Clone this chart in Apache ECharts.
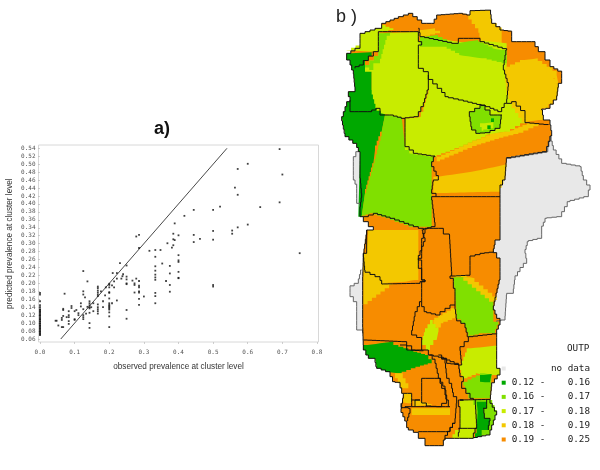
<!DOCTYPE html>
<html><head><meta charset="utf-8">
<script src="https://cdn.jsdelivr.net/npm/echarts@6/dist/echarts.min.js"></script>
<style>html,body{margin:0;padding:0;background:#fff}#c{width:600px;height:470px}</style>
</head><body><div id="c"></div>
<script>
// ---------- panel a) data ----------
const xTicks = [0,0.1,0.2,0.3,0.4,0.5,0.6,0.7,0.8];
const identityLine = [[0.06,0.06],[0.54,0.54]];
const zeroColumn = [0.07,0.072,0.074,0.077,0.079,0.081,0.084,0.086,0.088,0.091,0.093,0.095,0.098,0.1,0.103,0.105,0.108,0.11,0.112,0.115,0.118,0.12,0.122,0.125,0.128,0.13,0.133,0.135,0.14,0.145,0.155,0.172,0.176];
const scatterPoints = [
[0.692,0.538],[0.571,0.488],[0.6,0.501],[0.7,0.474],[0.563,0.441],[0.571,0.423],[0.692,0.404],[0.636,0.392],[0.52,0.393],[0.5,0.385],[0.444,0.385],[0.417,0.37],[0.389,0.351],[0.6,0.348],[0.571,0.341],[0.555,0.333],[0.555,0.325],[0.5,0.332],[0.5,0.31],[0.444,0.322],[0.444,0.304],[0.462,0.312],[0.4,0.321],[0.385,0.325],[0.385,0.311],[0.389,0.309],[0.368,0.301],[0.385,0.296],[0.381,0.29],[0.75,0.276],[0.5,0.196],[0.5,0.192],
[0.4,0.271],[0.4,0.258],[0.4,0.254],[0.4,0.229],[0.4,0.214],[0.4,0.213],[0.375,0.244],[0.375,0.225],[0.375,0.196],[0.375,0.179],[0.364,0.206],[0.353,0.25],[0.348,0.284],[0.333,0.284],[0.316,0.282],[0.333,0.267],[0.333,0.243],[0.333,0.232],[0.333,0.222],[0.333,0.215],[0.333,0.209],[0.333,0.176],[0.333,0.168],[0.333,0.15],[0.3,0.167],[0.286,0.322],[0.278,0.318],[0.286,0.289],
[0.286,0.206],[0.286,0.194],[0.286,0.19],[0.286,0.18],[0.286,0.177],[0.286,0.161],[0.286,0.146],[0.278,0.212],[0.273,0.2],[0.273,0.196],[0.273,0.177],[0.267,0.207],[0.25,0.245],[0.25,0.217],[0.25,0.21],[0.25,0.2],[0.25,0.198],[0.25,0.133],[0.25,0.111],[0.231,0.251],[0.24,0.223],[0.238,0.218],[0.235,0.212],[0.222,0.226],[0.222,0.212],[0.222,0.157],[0.214,0.205],[0.21,0.226],[0.214,0.19],[0.208,0.195],[0.208,0.15],
[0.2,0.199],[0.2,0.196],[0.2,0.19],[0.2,0.178],[0.2,0.176],[0.2,0.162],[0.2,0.15],[0.2,0.146],[0.2,0.143],[0.2,0.14],[0.2,0.137],[0.2,0.134],[0.2,0.127],[0.2,0.117],[0.2,0.09],
[0.19,0.19],[0.188,0.17],[0.182,0.155],[0.182,0.14],[0.176,0.18],
[0.167,0.192],[0.167,0.188],[0.167,0.182],[0.167,0.177],[0.167,0.172],[0.167,0.168],[0.167,0.147],[0.167,0.14],[0.167,0.135],[0.167,0.13],[0.167,0.124],
[0.154,0.13],[0.154,0.15],[0.148,0.14],[0.143,0.155],[0.143,0.15],[0.143,0.145],[0.143,0.14],[0.143,0.137],[0.143,0.126],[0.143,0.1],[0.143,0.088],[0.137,0.205],[0.137,0.141],[0.125,0.231],[0.125,0.18],[0.125,0.172],[0.125,0.135],[0.125,0.12],[0.125,0.115],[0.125,0.11],[0.13,0.165],[0.133,0.124],[0.118,0.15],[0.118,0.142],[0.111,0.125],[0.111,0.12],[0.105,0.133],[0.1,0.11],[0.1,0.108],[0.1,0.13],[0.091,0.143],[0.091,0.138],[0.083,0.13],[0.083,0.12],[0.083,0.115],[0.083,0.105],[0.083,0.098],[0.077,0.115],[0.071,0.174],[0.067,0.136],[0.067,0.133],[0.067,0.118],[0.063,0.113],[0.063,0.108],[0.063,0.09],[0.067,0.09],[0.053,0.094],[0.045,0.106],[0.048,0.106]
];
// ---------- panel b) classes ----------
const classLabels = ['0.12 -    0.16','0.16 -    0.17','0.17 -    0.18','0.18 -    0.19','0.19 -    0.25'];
const classValues = [0.14,0.165,0.175,0.185,0.22];
const classColors = ['#00a800','#80e000','#c8ec00','#f3c800','#f78c00'];
const noDataColor = '#e8e8e8';
const [DG,G,L,Y,O] = classValues; const ND = -1;

// map geometry traced in four overlapping frames
const frame=(ox,oy)=>(...p)=>{const r=[];for(let i=0;i<p.length;i+=2)r.push([ox+p[i]/3,oy+p[i+1]/3]);return r;};
const N=frame(330,0),S=frame(330,230),A=frame(395,345),B=frame(355,220);
function stairs(pts,closed,step=4.5){
  const src=closed?pts.concat([pts[0]]):pts, out=[src[0]];
  for(let i=1;i<src.length;i++){
    const a=src[i-1],b=src[i],n=Math.max(1,Math.round(Math.max(Math.abs(b[0]-a[0]),Math.abs(b[1]-a[1]))/step));
    let pv=a;
    for(let k=1;k<=n;k++){
      const q=[a[0]+(b[0]-a[0])*k/n,a[1]+(b[1]-a[1])*k/n];
      if(Math.abs(a[0]-b[0])>0.5&&Math.abs(a[1]-b[1])>0.5) out.push([q[0],pv[1]]);
      out.push(q);pv=q;
    }
  }
  return out;
}
const outline = [...N(50,160,75,145,90,130,90,100,135,85,155,70,205,50,235,40,275,70,305,70,320,45,385,40,410,45,420,32,480,30,485,70,510,90,545,95,545,125,605,125,625,155,645,160,645,180,660,200,695,220,695,250,685,262,680,300,660,325,635,330,640,360,660,375,665,408,650,455,530,475,525,540,510,570,510,690),
 ...S(510,30,495,45,490,68,510,100,510,150,495,215,490,240,500,265,510,285,500,310),
 ...A(305,30,305,70,315,75,315,90,290,125,285,175,305,210,300,225,285,270,235,280,165,280,150,285,145,302,90,302,90,280,70,262,40,248,35,228,18,190,20,175,25,145,15,112,0,110),
 ...S(180,425,140,410,135,385,115,375,100,345,98,280,98,140,100,70,110,0),
 ...N(115,690,130,680,100,650,90,645,90,620,95,580,90,520,90,455,80,430,45,400,35,350,50,305,60,290,55,275,75,260,70,210,60,180)];
const grayEast = [...N(530,475,650,455,660,410,670,450,695,490,750,500,760,540,780,570,775,590,720,605,695,650,650,655,635,690),...S(635,25,595,35,585,70,590,100,570,125,555,150,550,190,530,195,525,270,500,275,480,240,480,0),...N(500,600)];
const grayWest1 = N(85,455,70,485,70,540,80,565,80,610,90,620,110,610,110,460);
const grayWest2 = S(95,120,85,160,60,175,60,200,80,230,80,300,98,310,110,300,110,130);

const zones = [
 ['no data east',ND,grayEast],['no data west 1',ND,grayWest1],['no data west 2',ND,grayWest2],
 ['body',O,outline],
 ['nw strip',L,N(50,150,90,130,90,100,135,85,155,75,190,90,145,100,145,155)],
 ['dark west',DG,N(50,160,135,155,105,195,125,215,125,270,140,325,165,345,155,395,135,450,130,490,105,580,95,650,85,650,90,455,80,430,45,400,35,350,50,305,60,290,55,275,75,260,70,210,60,180)],
 ['green sw',G,N(165,345,215,350,225,440,250,460,315,470,305,500,305,680,250,680,180,655,130,640,95,650,105,580,130,490,155,395)],
 ['lime nw',L,N(105,195,145,155,145,100,265,95,265,125,270,145,265,205,295,225,295,270,280,320,265,350,225,355,215,350,165,340,140,325,125,270,125,215)],
 ['green fringe',G,N(105,195,145,155,145,100,190,95,170,120,150,190,130,210)],
 ['yellow band',Y,N(320,470,400,435,480,400,540,390,590,370,640,372,580,398,520,413,440,438,330,484)],
 ['lime north',L,N(265,150,275,110,530,150,530,270,545,305,585,370,540,395,480,405,400,440,320,470,250,460,225,440,225,355,265,350,280,320,295,270,295,225,265,205)],
 ['green north',G,N(270,110,310,105,365,130,430,120,530,150,530,190,470,175,400,165,350,140,270,140)],
 ['yellow north a',Y,N(265,90,300,85,330,100,270,115)],
 ['yellow north b',Y,N(415,45,420,32,480,30,485,70,515,95,515,135,455,125,445,85)],
 ['lime north c',L,N(450,122,515,130,530,150,500,145)],
 ['yellow east',Y,N(525,200,570,180,610,175,650,200,685,262,680,300,655,325,635,330,640,360,585,368,545,310,530,270,525,235)],
 ['yellow tip',Y,N(655,200,680,225,685,250,650,205)],
 ['yellow centre',Y,N(310,530,380,520,440,510,530,490,525,540,510,575,310,580)],
 ['ring green',G,N(418,335,450,315,480,345,515,345,510,385,480,398,450,400,425,380)],
 ['ring lime',L,N(450,370,490,365,490,385,460,392)],
 ['ring dark a',DG,N(483,355,492,355,492,366,483,366)],
 ['ring dark b',DG,N(472,376,482,376,482,387,472,387)],
 ['yellow sw',Y,B(40,30,190,30,190,180,165,185,90,190,70,165,35,155,25,135,25,100,35,95)],
 ['yellow sw b',Y,B(25,140,70,165,90,190,115,195,25,262)],
 ['yellow small',Y,B(300,165,335,165,335,172,300,172)],
 ['green se',G,B(295,172,325,172,415,245,415,305,430,315,420,340,385,340,345,350,330,310,305,285,300,220)],
 ['yellow fringe se',Y,B(325,172,345,175,425,240,415,245)],
 ['yellow mid',Y,B(225,300,300,258,305,295,265,310,250,335,235,300)],
 ['lime mid',L,B(225,300,250,335,245,360,225,390,200,360,210,325)],
 ['dark sw',DG,S(100,345,175,335,190,345,250,365,285,375,305,400,270,410,215,430,180,425,140,410,135,385,115,375)],
 ['lime e',L,A(215,10,305,0,305,70,315,75,315,90,290,90,255,85,205,105,195,60)],
 ['green e',G,A(205,110,255,85,290,90,285,160,225,160)],
 ['dark e',DG,A(255,90,290,85,285,112,270,110)],
 ['yellow s0',Y,A(0,85,15,85,40,130,25,130)],
 ['yellow s1',Y,A(25,145,50,145,50,175,25,170)],
 ['yellow s2',Y,A(55,165,75,170,110,180,60,185)],
 ['yellow s3',Y,A(50,190,160,190,165,210,50,210)],
 ['lime block',L,A(195,165,235,165,245,195,245,250,195,250)],
 ['green tip',G,A(235,165,285,165,305,210,300,225,285,270,235,280,245,250,245,195)],
 ['dark tip',DG,A(245,170,275,170,275,190,265,190,268,220,285,228,280,255,260,275,235,280,245,250,248,200)],
 ['lime lower',L,A(195,250,245,250,235,280,165,280,180,255)]
];
const borders = [
 outline.concat([outline[0]]),
 N(145,155,145,95,265,95,265,125,275,135,265,150,265,205,295,225,295,270,280,320,265,350,225,355,190,345,165,345,150,325,125,335,60,335,60,300),
 N(145,155,100,195,75,205),
 N(265,85,270,110,365,130,385,115,430,115,450,125,530,150,520,210,535,260,530,310,515,335,480,320,400,300,355,290,335,265,295,225),
 N(530,310,545,305,585,345,585,368,655,375),
 N(418,335,450,315,480,345,515,345,510,385,480,398,450,400,425,380,418,335),
 N(225,355,225,440,250,460,315,470,305,500,325,540,310,545,305,580,318,590,305,600,315,680,280,690),
 N(318,590,510,590),
 N(100,650,130,640,180,655,250,680,280,690),
 B(200,55,210,25,250,25,265,42,283,45,290,168,285,175,295,185,295,205,300,215,300,255),
 B(200,55,200,115,190,120,190,145,200,150,200,180,210,185,200,192,200,245),
 S(275,0,285,35,265,90,275,110,275,150,285,155,270,160,160,162,150,140,105,120,100,70,110,60,110,0),
 B(290,168,345,165,345,108,375,100,415,95),
 S(275,215,255,260,245,315,275,330,275,360,295,375,340,385,350,400,385,405,395,400,390,350,415,320,405,280,380,265,375,225,330,255,290,245,275,215),
 S(415,320,500,310),
 S(100,330,215,335,245,360,275,360),
 A(15,0,35,15,85,18),
 A(103,30,120,55,130,100,150,135,155,165,160,185),
 A(130,30,150,55,155,100,170,130,175,155,185,175,180,235,165,260,70,260),
 A(140,40,190,60,195,95,205,110,200,130,225,160,235,165),
 A(80,100,130,100,140,130,150,150,155,175,140,185,108,183,80,165,80,100),
 A(25,145,50,145,50,185,30,188,18,175),
 A(50,165,75,165,60,185),
 A(30,188,40,190,45,205,38,228),
 A(50,185,165,185),
 A(195,165,285,163),
 A(195,165,205,165,190,185,195,205,195,250,190,275),
 A(240,165,245,250,190,250),
 A(245,250,235,278),
 A(275,165,275,190,265,190,268,220,285,228,280,255),
 A(180,235,150,283)
];
const grayBorders = [grayEast.slice(0,-3),grayWest1.slice(0,6),grayWest2.slice(0,7)];

echarts.registerMap('study',{type:'FeatureCollection',features:zones.map(z=>({
  type:'Feature',properties:{name:z[0]},geometry:{type:'Polygon',coordinates:[stairs(z[2],true)]}
}))});

const chart = echarts.init(document.getElementById('c'),null,{renderer:'canvas'});
const axisGray='#bbb', txt='#555';
chart.setOption({
  animation:false,
  backgroundColor:'#fff',
  title:[
    {text:'a)',left:162,top:120,textAlign:'center',padding:0,textStyle:{fontFamily:'Liberation Sans',fontSize:18,fontWeight:'bold',color:'#111'}},
    {text:'b )',left:336,top:8,padding:0,textStyle:{fontFamily:'Liberation Sans',fontSize:18,fontWeight:'normal',color:'#222'}},
    {text:'OUTP',left:567,top:344,padding:0,textStyle:{fontFamily:'DejaVu Sans Mono',fontSize:9.3,fontWeight:'normal',color:'#222'}}
  ],
  graphic:[{type:'rect',silent:true,z:0,shape:{x:38.5,y:145,width:280,height:197},style:{fill:'none',stroke:'#d8d8d8',lineWidth:1}}],
  grid:{left:40,top:148.3,width:277,height:190.7},
  xAxis:{type:'value',min:0,max:0.8,interval:0.1,offset:3,
    name:'observed prevalence at cluster level',nameLocation:'middle',nameGap:21,
    nameTextStyle:{fontFamily:'Liberation Sans',fontSize:8.2,color:'#333'},
    axisLine:{show:false},axisTick:{show:true,length:2,lineStyle:{color:axisGray,width:0.7}},splitLine:{show:false},
    axisLabel:{margin:7,fontFamily:'DejaVu Sans Mono',fontSize:6,color:txt,formatter:v=>xTicks.includes(+v.toFixed(1))?v.toFixed(1):''}},
  yAxis:{type:'value',min:0.06,max:0.54,interval:0.02,offset:1.5,
    name:'predicted prevalence at cluster level',nameLocation:'middle',nameGap:25,
    nameTextStyle:{fontFamily:'Liberation Sans',fontSize:8.2,color:'#333'},
    axisLine:{show:false},axisTick:{show:true,length:2,lineStyle:{color:axisGray,width:0.7}},splitLine:{show:false},
    axisLabel:{margin:3,fontFamily:'DejaVu Sans Mono',fontSize:6,color:txt,formatter:v=>v.toFixed(2)}},
  geo:{map:'study',roam:false,silent:true,left:0,top:0,width:600,height:470,
    boundingCoords:[[0,0],[600,470]],
    projection:{project:p=>p,unproject:p=>p},
    label:{show:false},emphasis:{disabled:true},select:{disabled:true},
    itemStyle:{areaColor:noDataColor,borderWidth:0}},
  visualMap:{type:'piecewise',seriesIndex:2,left:501.7,top:364,padding:0,orient:'vertical',inverse:true,itemWidth:4,itemHeight:4,itemGap:5.2,itemSymbol:'rect',textGap:6,align:'left',hoverLink:false,selectedMode:false,z:10,
    textStyle:{fontFamily:'DejaVu Sans Mono',fontSize:9.3,color:'#222'},
    pieces:[{min:-2,max:0,label:'       no data',color:noDataColor}].concat(classValues.map((v,i)=>({min:v-0.002,max:v+0.002,label:classLabels[i],color:classColors[i]})))},
  series:[
    {type:'line',data:identityLine,symbol:'none',silent:true,lineStyle:{color:'#333',width:0.9},z:2},
    {type:'scatter',data:scatterPoints.concat(zeroColumn.map(v=>[0,v])),symbol:'rect',symbolSize:1.8,silent:true,itemStyle:{color:'#111'},z:3},
    {type:'map',geoIndex:0,silent:true,data:zones.map(z=>({name:z[0],value:z[1]}))},
    {type:'lines',coordinateSystem:'geo',polyline:true,silent:true,z:5,
      data:borders.map(b=>({coords:stairs(b,false)})),lineStyle:{color:'#111',width:1,opacity:1}},
    {type:'lines',coordinateSystem:'geo',polyline:true,silent:true,z:4,
      data:grayBorders.map(b=>({coords:stairs(b,false)})),lineStyle:{color:'#666',width:1,opacity:1}}
  ]
});
</script></body></html>
